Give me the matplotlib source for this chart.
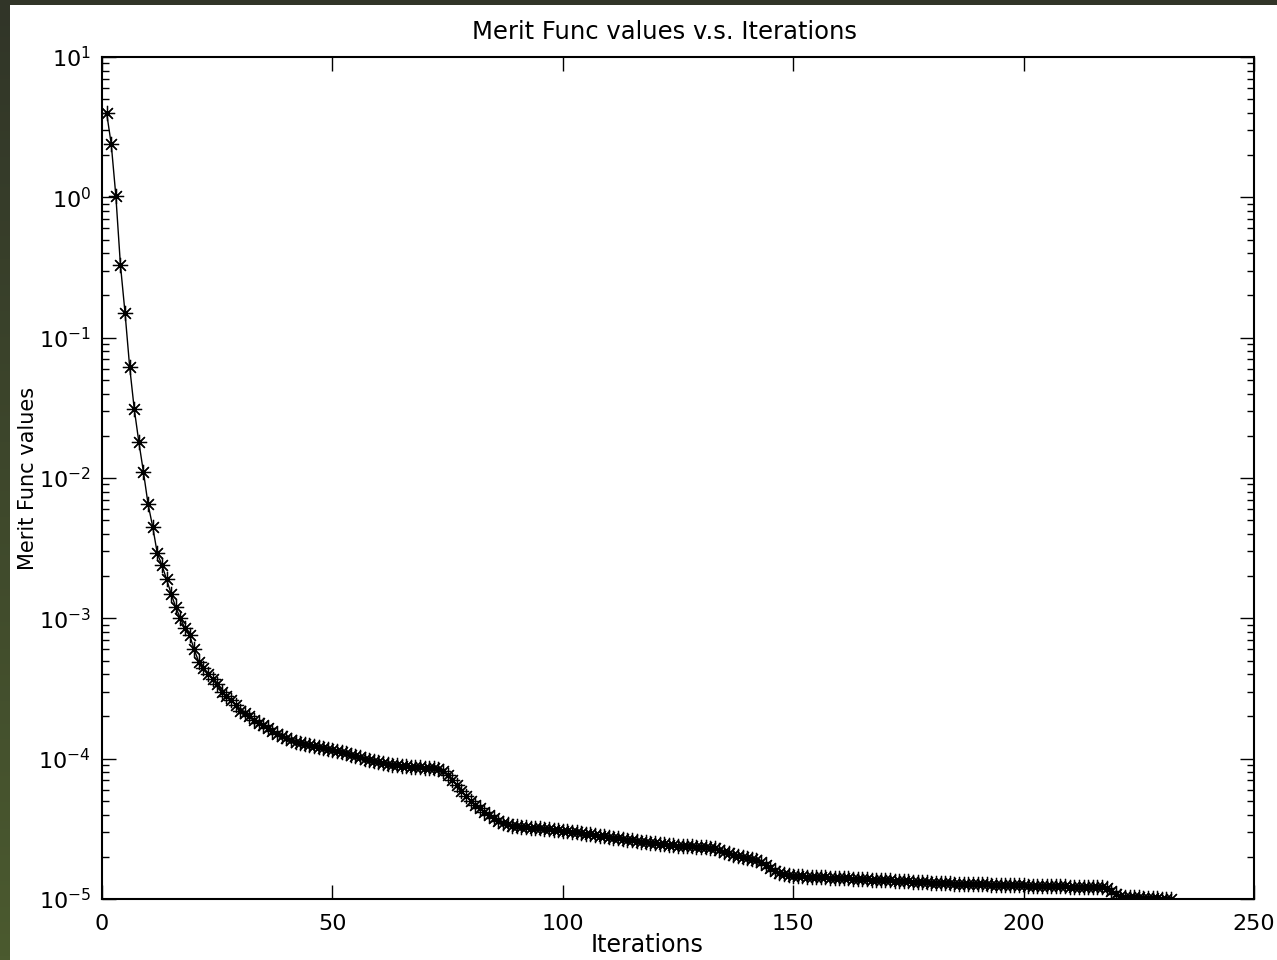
import numpy as np
import matplotlib
matplotlib.use("Agg")
import matplotlib.pyplot as plt
from matplotlib.patches import Rectangle
from matplotlib.ticker import LogLocator, FixedLocator, NullFormatter

plt.rcParams['font.family'] = ['DejaVu Sans']
plt.rcParams['mathtext.default'] = 'regular'

# ---- data ----
title = "Merit Func values v.s. Iterations"
xlabel = "Iterations"
ylabel = "Merit Func values"
x_ticks = [0, 50, 100, 150, 200, 250]

merit_early = [  # iterations 1-30
    4.0, 2.4, 1.03, 0.33, 0.15, 0.062, 0.031, 0.018, 0.011, 0.0065,
    0.0045, 0.0029, 0.0024, 0.0019, 0.0015, 0.0012, 0.0010, 8.5e-4, 7.6e-4, 6.0e-4,
    4.9e-4, 4.4e-4, 4.0e-4, 3.7e-4, 3.4e-4, 3.0e-4, 2.8e-4, 2.6e-4, 2.4e-4, 2.2e-4,
]
merit_mid1 = [  # iterations 31-90
    2.10e-4, 2.00e-4, 1.90e-4, 1.80e-4, 1.73e-4, 1.65e-4, 1.58e-4, 1.51e-4, 1.45e-4, 1.40e-4,
    1.36e-4, 1.32e-4, 1.29e-4, 1.27e-4, 1.25e-4, 1.23e-4, 1.21e-4, 1.19e-4, 1.17e-4, 1.15e-4,
    1.13e-4, 1.11e-4, 1.09e-4, 1.07e-4, 1.04e-4, 1.02e-4, 1.00e-4, 9.80e-5, 9.60e-5, 9.40e-5,
    9.28e-5, 9.17e-5, 9.06e-5, 8.95e-5, 8.85e-5, 8.80e-5, 8.75e-5, 8.70e-5, 8.66e-5, 8.62e-5,
    8.58e-5, 8.52e-5, 8.43e-5, 8.20e-5, 7.70e-5, 7.10e-5, 6.50e-5, 5.90e-5, 5.40e-5, 5.00e-5,
    4.70e-5, 4.45e-5, 4.20e-5, 3.95e-5, 3.75e-5, 3.60e-5, 3.48e-5, 3.40e-5, 3.34e-5, 3.30e-5,
]
merit_mid2 = [  # iterations 91-150
    3.27e-5, 3.24e-5, 3.22e-5, 3.20e-5, 3.18e-5, 3.16e-5, 3.14e-5, 3.12e-5, 3.10e-5, 3.07e-5,
    3.04e-5, 3.01e-5, 2.98e-5, 2.95e-5, 2.92e-5, 2.89e-5, 2.86e-5, 2.83e-5, 2.80e-5, 2.77e-5,
    2.74e-5, 2.71e-5, 2.68e-5, 2.65e-5, 2.62e-5, 2.59e-5, 2.56e-5, 2.53e-5, 2.51e-5, 2.49e-5,
    2.47e-5, 2.45e-5, 2.43e-5, 2.41e-5, 2.40e-5, 2.39e-5, 2.38e-5, 2.37e-5, 2.36e-5, 2.35e-5,
    2.34e-5, 2.32e-5, 2.30e-5, 2.25e-5, 2.18e-5, 2.12e-5, 2.07e-5, 2.03e-5, 2.00e-5, 1.97e-5,
    1.94e-5, 1.90e-5, 1.85e-5, 1.75e-5, 1.65e-5, 1.58e-5, 1.54e-5, 1.51e-5, 1.49e-5, 1.47e-5,
]
merit_late = [  # iterations 151-232
    1.460e-5, 1.450e-5, 1.445e-5, 1.440e-5, 1.435e-5, 1.430e-5, 1.425e-5, 1.420e-5, 1.415e-5, 1.410e-5,
    1.405e-5, 1.400e-5, 1.395e-5, 1.390e-5, 1.385e-5, 1.380e-5, 1.375e-5, 1.370e-5, 1.365e-5, 1.360e-5,
    1.355e-5, 1.350e-5, 1.345e-5, 1.340e-5, 1.335e-5, 1.330e-5, 1.325e-5, 1.320e-5, 1.315e-5, 1.310e-5,
    1.305e-5, 1.300e-5, 1.295e-5, 1.290e-5, 1.287e-5, 1.285e-5, 1.282e-5, 1.280e-5, 1.277e-5, 1.275e-5,
    1.272e-5, 1.270e-5, 1.267e-5, 1.265e-5, 1.262e-5, 1.260e-5, 1.257e-5, 1.255e-5, 1.252e-5, 1.250e-5,
    1.247e-5, 1.245e-5, 1.242e-5, 1.240e-5, 1.237e-5, 1.235e-5, 1.232e-5, 1.230e-5, 1.228e-5, 1.226e-5,
    1.224e-5, 1.222e-5, 1.220e-5, 1.218e-5, 1.216e-5, 1.213e-5, 1.208e-5, 1.190e-5, 1.140e-5, 1.080e-5,
    1.050e-5, 1.040e-5, 1.035e-5, 1.030e-5, 1.025e-5, 1.020e-5, 1.017e-5, 1.013e-5, 1.010e-5, 1.007e-5,
    1.004e-5, 1.000e-5,
]

merit = merit_early + merit_mid1 + merit_mid2 + merit_late
iterations = list(range(1, len(merit) + 1))

# ---- figure ----
W, H = 1277, 960
fig = plt.figure(figsize=(W / 100, H / 100), dpi=100)

# dark-olive frame (top and left) with a vertical gradient
bg = fig.add_axes([0, 0, 1, 1], zorder=-10)
bg.set_axis_off()
top_c = np.array([0x31, 0x35, 0x28]) / 255
bot_c = np.array([0x4b, 0x5a, 0x2f]) / 255
t = np.linspace(0, 1, 256)[:, None, None]
img = top_c[None, None, :] * (1 - t) + bot_c[None, None, :] * t
bg.imshow(img, aspect='auto', extent=[0, 1, 0, 1], origin='upper')
bg.set_xlim(0, 1)
bg.set_ylim(0, 1)
bg.add_patch(Rectangle((10 / W, 0), 1, 1 - 5 / H, transform=bg.transAxes,
                       facecolor='white', edgecolor='none'))

ax = fig.add_axes([102 / W, 1 - 899 / H, (1254 - 102) / W, (899 - 57) / H])
ax.set_facecolor('white')
ax.plot(iterations, merit, color='black', linewidth=1.0,
        marker=(8, 2, 0), markersize=11, markeredgewidth=0.9,
        markeredgecolor='black')

ax.set_yscale('log')
ax.set_xlim(0, 250)
ax.set_ylim(1e-5, 1e1)
ax.xaxis.set_major_locator(FixedLocator(x_ticks))
ax.yaxis.set_major_locator(LogLocator(base=10, numticks=20))
ax.yaxis.set_minor_locator(LogLocator(base=10, subs=np.arange(2, 10), numticks=20))
ax.yaxis.set_minor_formatter(NullFormatter())

for s in ax.spines.values():
    s.set_linewidth(1.5)
ax.tick_params(which='both', direction='in', top=True, right=True, width=1.0)
ax.tick_params(which='major', length=10, labelsize=16)
ax.tick_params(which='minor', length=5)
ax.tick_params(axis='y', which='major', pad=8)
ax.tick_params(axis='x', which='major', pad=11)

ax.set_title(title, fontsize=17.5, pad=13, x=(665 - 102) / 1152)
ax.set_xlabel(xlabel, fontsize=17)
ax.set_ylabel(ylabel, fontsize=15)
ax.xaxis.set_label_coords((647 - 102) / 1152, (899 - 933) / 842)
ax.yaxis.set_label_coords((38 - 102) / 1152, 0.5)

fig.savefig("out.png", dpi=100)
